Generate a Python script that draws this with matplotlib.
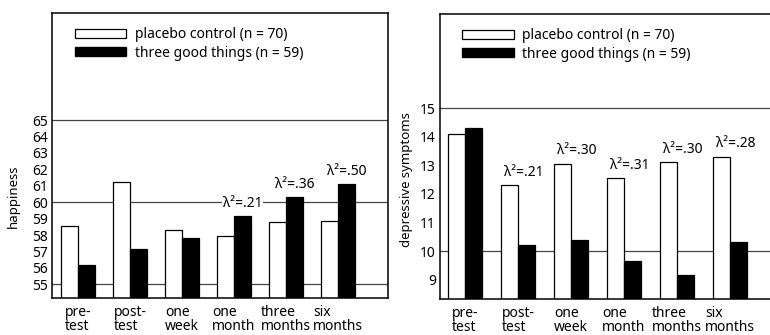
import matplotlib as mpl
from matplotlib import pyplot as plt
from matplotlib.patches import Patch

TIMEPOINTS = ["pre-\ntest", "post-\ntest", "one\nweek", "one\nmonth", "three\nmonths", "six\nmonths"]
LEGEND_LABELS = ["placebo control (n = 70)", "three good things (n = 59)"]

HAPPY_PLACEBO = [58.55, 61.2, 58.3, 57.95, 58.8, 58.85]
HAPPY_TGT = [56.15, 57.15, 57.8, 59.15, 60.3, 61.1]
HAPPY_ETA = ["", "", "", "λ²=.21", "λ²=.36", "λ²=.50"]

DEPR_PLACEBO = [14.1, 12.3, 13.05, 12.55, 13.1, 13.3]
DEPR_TGT = [14.3, 10.2, 10.4, 9.65, 9.15, 10.3]
DEPR_ETA = ["", "λ²=.21", "λ²=.30", "λ²=.31", "λ²=.30", "λ²=.28"]

FIGSIZE = [7.7, 3.35]
DPI = 100
BAR_W = 0.32
RCPARAMS = {
    "font.family": ["Noto Sans", "DejaVu Sans"],
    "font.size": 9.5,
    "axes.linewidth": 1.1,
}


def draw_panel(ax, placebo, tgt, etas, ylim, yticks, grid, ylabel, xlim, eta_dx, label_xy):
    x = range(len(TIMEPOINTS))
    base = ylim[0] - 1
    for y in grid:
        ax.axhline(y, color="#444444", linewidth=0.9, zorder=1)
    ax.bar([i - BAR_W / 2 for i in x], [v - base for v in placebo], BAR_W, bottom=base,
           color="white", edgecolor="black", linewidth=0.9, zorder=2)
    ax.bar([i + BAR_W / 2 for i in x], [v - base for v in tgt], BAR_W, bottom=base,
           color="black", edgecolor="black", linewidth=0.9, zorder=2)
    for i in x:
        if etas[i]:
            top = max(placebo[i], tgt[i])
            ax.annotate(etas[i], (i + eta_dx, top), xytext=(0, 4),
                        textcoords="offset points", ha="center", va="bottom",
                        fontsize=10, zorder=3,
                        bbox=dict(facecolor="white", edgecolor="none", pad=0.5))
    ax.set_xlim(*xlim)
    ax.set_ylim(*ylim)
    ax.set_yticks(yticks)
    ax.set_xticks(list(x))
    ax.set_xticklabels(TIMEPOINTS, multialignment="left", linespacing=0.95, fontsize=9.5)
    ax.tick_params(axis="both", length=0, labelsize=10)
    ax.tick_params(axis="x", pad=5)
    ax.tick_params(axis="y", pad=3)
    ax.set_ylabel(ylabel, fontsize=9.5)
    ax.yaxis.set_label_coords(*label_xy)
    ax.spines["right"].set_visible(False)
    handles = [Patch(facecolor="white", edgecolor="black", linewidth=0.9),
               Patch(facecolor="black", edgecolor="black")]
    ax.legend(handles, LEGEND_LABELS, loc="upper left", bbox_to_anchor=(0.068, 0.95),
              frameon=False, borderpad=0, borderaxespad=0, handlelength=3.7,
              handleheight=0.6, handletextpad=0.6, labelspacing=0.25, fontsize=10)


def main():
    for key in RCPARAMS:
        mpl.rcParams[key] = RCPARAMS[key]
    fig = plt.figure(figsize=FIGSIZE, dpi=DPI)
    ax1 = fig.add_axes([0.0675, 0.1104, 0.4364, 0.8507])
    ax2 = fig.add_axes([0.5714, 0.1075, 0.4300, 0.8507])
    draw_panel(ax1, HAPPY_PLACEBO, HAPPY_TGT, HAPPY_ETA, (54.17, 71.51),
               range(55, 66), [55, 60, 65], "happiness", (-0.5, 5.96), 0.16,
               (-0.095, 0.358))
    ax1.spines["right"].set_visible(True)
    draw_panel(ax2, DEPR_PLACEBO, DEPR_TGT, DEPR_ETA, (8.32, 18.3),
               range(9, 16), [10, 15], "depressive symptoms", (-0.47, 5.78), 0.12,
               (-0.082, 0.42))
    fig.savefig("out.png", dpi=DPI)
    plt.close(fig)


if __name__ == "__main__":
    main()
